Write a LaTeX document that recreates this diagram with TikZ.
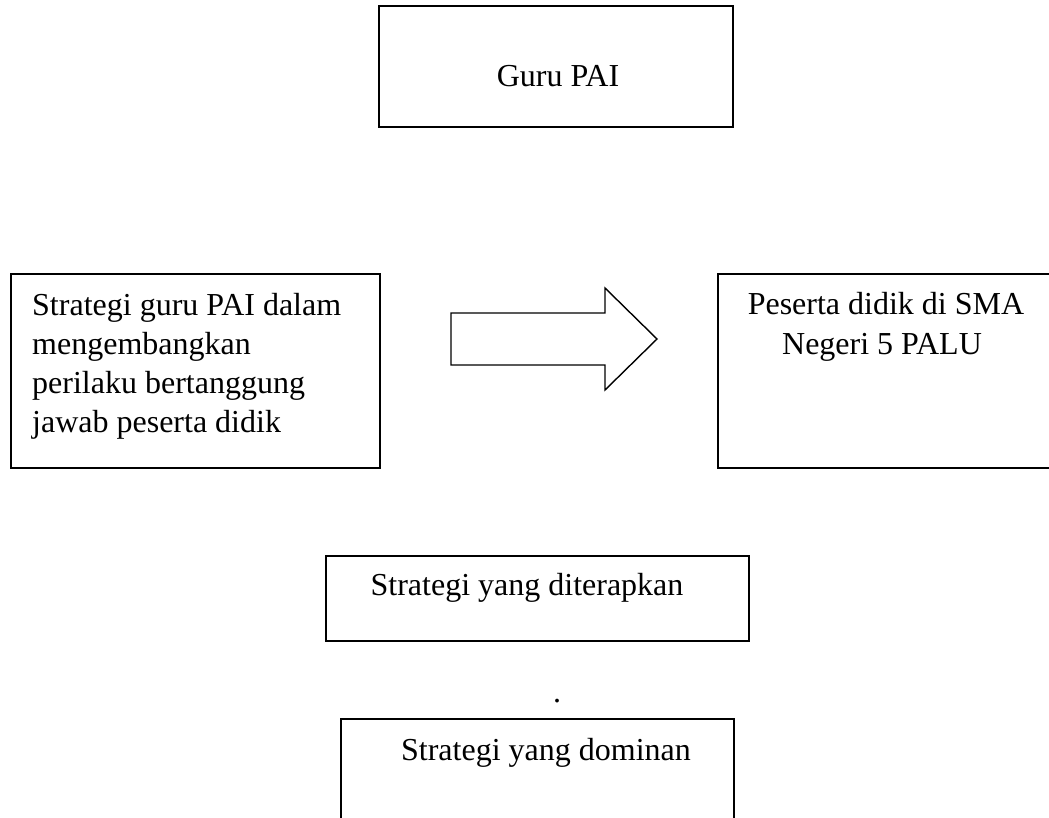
\documentclass[tikz,border=0pt]{standalone}
\usepackage{fontspec}
\setmainfont{Liberation Serif}
\begin{document}
\begin{tikzpicture}[x=1pt,y=-1pt,
  box/.style={draw=black, line width=1.4pt, rectangle, inner sep=0pt},
  lbl/.style={inner sep=0pt, font=\fontsize{32}{40}\selectfont},
  blockarrow/.style={draw=black, line width=1.4pt, line join=miter, fill=white}]
\useasboundingbox (0,0) rectangle (1049,818);
% boxes
\draw[box] (379,6) rectangle (733,127) node[pos=0.5] (guru) {};
\draw[box] (11,274) rectangle (380,468) node[pos=0.5] (strat) {};
\draw[box] (718,274) rectangle (1070,468) node[pos=0.5] (peserta) {};
\draw[box] (326,556) rectangle (749,641) node[pos=0.5] (diterapkan) {};
\draw[box] (341,719) rectangle (734,840) node[pos=0.5] (dominan) {};
% labels
\node[lbl, anchor=base] (tguru) at (558,87) {Guru PAI};
\node[lbl, anchor=base west] (ts1) at (32,315) {Strategi guru PAI dalam};
\node[lbl, anchor=base west] (ts2) at (32,354) {mengembangkan};
\node[lbl, anchor=base west] (ts3) at (32,393) {perilaku bertanggung};
\node[lbl, anchor=base west] (ts4) at (32,432) {jawab peserta didik};
\node[lbl, anchor=base] (tp1) at (886,314) {Peserta didik di SMA};
\node[lbl, anchor=base] (tp2) at (882,354) {Negeri 5 PALU};
\node[lbl, anchor=base] (tdit) at (527,595) {Strategi yang diterapkan};
\node[lbl, anchor=base] (tdot) at (557,702) {.};
\node[lbl, anchor=base] (tdom) at (546,760) {Strategi yang dominan};
% block arrow
\draw[blockarrow] (451,313) -- (605,313) -- (605,288) -- (657,339) -- (605,390) -- (605,365) -- (451,365) -- cycle;
\end{tikzpicture}
\end{document}
